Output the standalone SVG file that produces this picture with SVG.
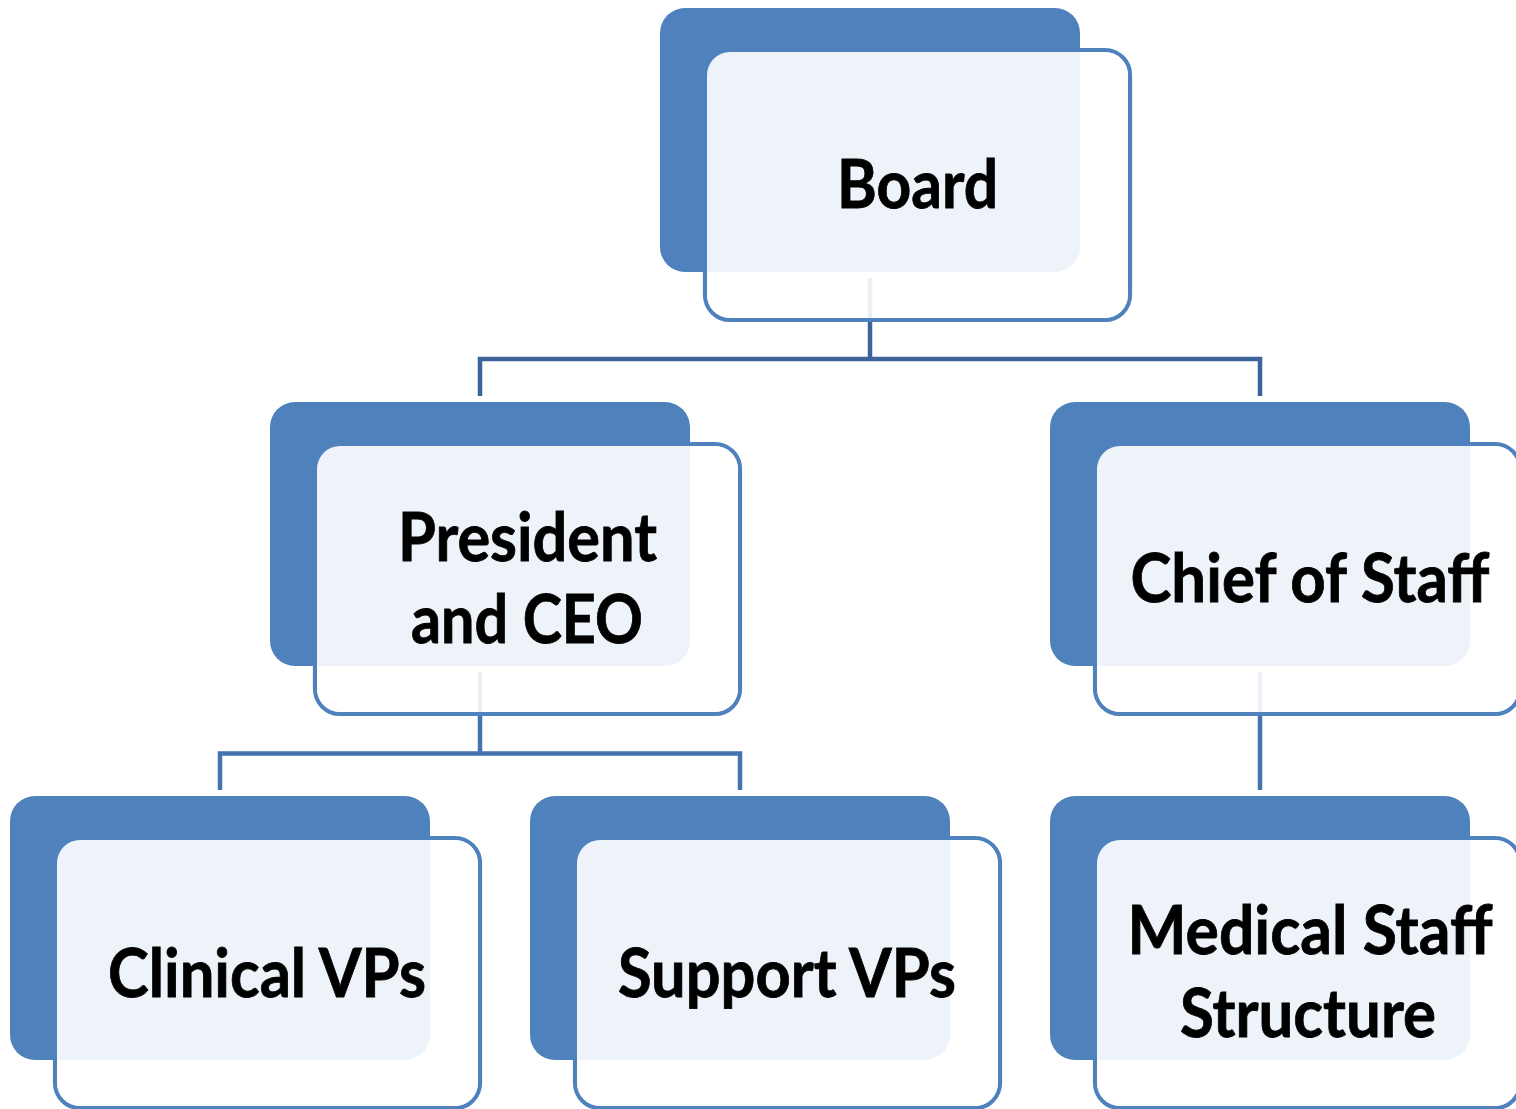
<svg xmlns="http://www.w3.org/2000/svg" width="1516" height="1109" viewBox="0 0 1516 1109">
<style>
.back{fill:#4F81BD;}
.frame{fill:none;stroke:#4F81BD;stroke-width:4.2;}
.veil{fill:#FFFFFF;fill-opacity:0.9;}
.lbl{font-family:Lato,"Open Sans","Liberation Sans",sans-serif;font-weight:bold;font-size:66px;fill:#000;stroke:#000;stroke-width:0.8;text-anchor:middle;}
.c1{fill:none;stroke:#3D649A;stroke-width:4.5;}
.c2{fill:none;stroke:#4573AE;stroke-width:4.5;}
</style>
<rect width="1516" height="1109" fill="#FFFFFF"/>
<g id="connectors">
<path class="c1" d="M870 278 V359 M480 396 V359 H1260 V396"/>
<path class="c2" d="M480 672 V753.5 M220 790 V753.5 H740 V790"/>
<path class="c2" d="M1260 672 V790"/>
</g>
<g id="board">
<rect class="frame" x="705" y="50" width="425" height="270" rx="25"/>
<rect class="back" x="660" y="8" width="420" height="264" rx="25"/>
<rect class="veil" x="707" y="52" width="421" height="266" rx="23"/>
<text class="lbl" x="917.5" y="208" textLength="161" lengthAdjust="spacingAndGlyphs">Board</text>
</g>
<g id="president">
<rect class="frame" x="315" y="444" width="425" height="270" rx="25"/>
<rect class="back" x="270" y="402" width="420" height="264" rx="25"/>
<rect class="veil" x="317" y="446" width="421" height="266" rx="23"/>
<text class="lbl" x="527.5" y="561" textLength="259" lengthAdjust="spacingAndGlyphs">President</text>
<text class="lbl" x="527" y="643" textLength="232" lengthAdjust="spacingAndGlyphs">and CEO</text>
</g>
<g id="chief">
<rect class="frame" x="1095" y="444" width="425" height="270" rx="25"/>
<rect class="back" x="1050" y="402" width="420" height="264" rx="25"/>
<rect class="veil" x="1097" y="446" width="421" height="266" rx="23"/>
<text class="lbl" x="1310" y="602" textLength="359" lengthAdjust="spacingAndGlyphs">Chief of Staff</text>
</g>
<g id="clinical">
<rect class="frame" x="55" y="838" width="425" height="270" rx="25"/>
<rect class="back" x="10" y="796" width="420" height="264" rx="25"/>
<rect class="veil" x="57" y="840" width="421" height="266" rx="23"/>
<text class="lbl" x="267" y="997" textLength="318" lengthAdjust="spacingAndGlyphs">Clinical VPs</text>
</g>
<g id="support">
<rect class="frame" x="575" y="838" width="425" height="270" rx="25"/>
<rect class="back" x="530" y="796" width="420" height="264" rx="25"/>
<rect class="veil" x="577" y="840" width="421" height="266" rx="23"/>
<text class="lbl" x="787" y="997" textLength="338" lengthAdjust="spacingAndGlyphs">Support VPs</text>
</g>
<g id="medical">
<rect class="frame" x="1095" y="838" width="425" height="270" rx="25"/>
<rect class="back" x="1050" y="796" width="420" height="264" rx="25"/>
<rect class="veil" x="1097" y="840" width="421" height="266" rx="23"/>
<text class="lbl" x="1310" y="954" textLength="365" lengthAdjust="spacingAndGlyphs">Medical Staff</text>
<text class="lbl" x="1308" y="1037" textLength="256" lengthAdjust="spacingAndGlyphs">Structure</text>
</g>
</svg>
